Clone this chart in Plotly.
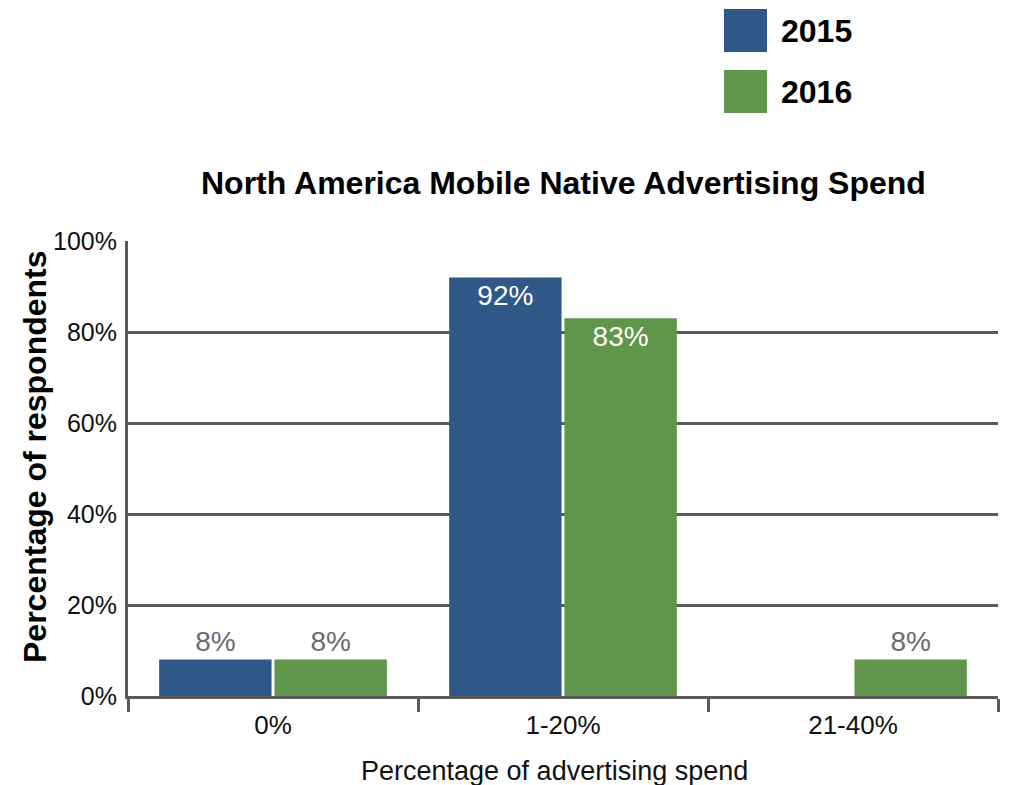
import plotly.graph_objects as go

# Survey data: share of respondents by mobile native ad spend bucket
categories = ["0%", "1-20%", "21-40%"]
years = ["2015", "2016"]
values_2015 = [8, 92, None]
values_2016 = [8, 83, 8]
y_tick_values = [0, 20, 40, 60, 80, 100]
y_tick_labels = ["0%", "20%", "40%", "60%", "80%", "100%"]

BLUE = "#2F5889"
GREEN = "#60964C"
GRID = "#5a5a5a"
FONT = "Liberation Sans, Arial, Helvetica, sans-serif"


def bar_trace(name, vals, color):
    labels = [f"{v}%" if v is not None else "" for v in vals]
    positions = ["inside" if (v is not None and v > 50) else "outside" for v in vals]
    return go.Bar(
        name=name,
        x=categories,
        y=vals,
        text=labels,
        textposition=positions,
        insidetextanchor="end",
        insidetextfont=dict(color="white", size=28, family=FONT),
        outsidetextfont=dict(color="#6b6b6b", size=28, family=FONT),
        cliponaxis=False,
        marker=dict(color=color, line=dict(width=0)),
        showlegend=False,
    )


fig = go.Figure()
fig.add_trace(bar_trace(years[0], values_2015, BLUE))
fig.add_trace(bar_trace(years[1], values_2016, GREEN))

fig.update_layout(
    width=1009,
    height=785,
    margin=dict(l=128, r=11, t=241, b=89),
    paper_bgcolor="white",
    plot_bgcolor="white",
    barmode="group",
    bargap=0.205,
    bargroupgap=0.025,
    font=dict(family=FONT, color="#111111"),
    uniformtext=dict(mode=False),
)

fig.update_xaxes(
    type="category",
    tickson="boundaries",
    ticks="outside",
    ticklen=13,
    tickwidth=3,
    tickcolor=GRID,
    showline=True,
    linecolor=GRID,
    linewidth=3,
    showgrid=False,
    ticklabelstandoff=4,
    tickfont=dict(size=26, family=FONT, color="#111111"),
)

fig.update_yaxes(
    range=[0, 100],
    tickvals=y_tick_values,
    ticktext=y_tick_labels,
    showgrid=True,
    gridcolor=GRID,
    gridwidth=3,
    zeroline=False,
    showline=True,
    linecolor=GRID,
    linewidth=3,
    ticks="",
    ticklabelstandoff=3,
    tickfont=dict(size=25, family=FONT, color="#111111"),
)

# Chart title and axis titles
fig.add_annotation(
    text="<b>North America Mobile Native Advertising Spend</b>",
    xref="paper", yref="paper", x=0.5, y=(696 - 183) / 455,
    xanchor="center", yanchor="middle", showarrow=False,
    font=dict(size=32, family=FONT, color="black"),
)
fig.add_annotation(
    text="<b>Percentage of respondents</b>",
    xref="paper", yref="paper", x=(35 - 128) / 870, y=(696 - 457) / 455,
    xanchor="center", yanchor="middle", showarrow=False, textangle=-90,
    font=dict(size=32, family=FONT, color="black"),
)
fig.add_annotation(
    text="Percentage of advertising spend",
    xref="paper", yref="paper", x=(554 - 128) / 870, y=(696 - 771) / 455,
    xanchor="center", yanchor="middle", showarrow=False,
    font=dict(size=27, family=FONT, color="#111111"),
)

# Legend: colored squares with bold year labels
legend_rows = [(years[0], BLUE, 9, 52), (years[1], GREEN, 70, 113)]
for label, color, top, bottom in legend_rows:
    fig.add_shape(
        type="rect", xref="paper", yref="paper",
        x0=(724 - 128) / 870, x1=(767 - 128) / 870,
        y0=(696 - bottom) / 455, y1=(696 - top) / 455,
        fillcolor=color, line=dict(width=0),
    )
    fig.add_annotation(
        text=f"<b>{label}</b>",
        xref="paper", yref="paper", x=(779 - 128) / 870,
        y=(696 - (top + bottom) / 2) / 455,
        xanchor="left", yanchor="middle", showarrow=False,
        font=dict(size=32, family=FONT, color="black"),
    )

fig.write_html("out.html")
